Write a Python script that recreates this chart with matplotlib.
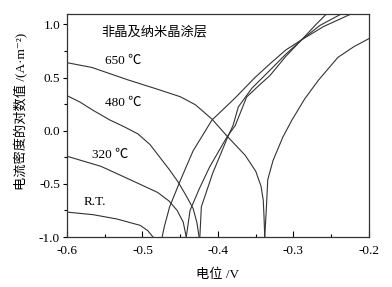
"""
Tafel curves of the amorphous / nanocrystalline coating (R.T., 320, 480, 650 C).
"""
import matplotlib
matplotlib.use("Agg")
import matplotlib.pyplot as plt
from matplotlib.ticker import MultipleLocator, FormatStrFormatter

FONTS = ["Liberation Serif", "Noto Sans CJK SC", "DejaVu Sans"]
plt.rcParams["font.family"] = FONTS
plt.rcParams["axes.unicode_minus"] = True

# --- data ------------------------------------------------------------
# cathodic branches (potential V, log current density)
rt_cat_x = [-0.600, -0.565, -0.534, -0.503, -0.493, -0.486]
rt_cat_y = [-0.765, -0.790, -0.830, -0.890, -0.940, -1.000]

t320_cat_x = [-0.600, -0.555, -0.515, -0.480, -0.465, -0.454, -0.446, -0.442]
t320_cat_y = [-0.240, -0.335, -0.465, -0.580, -0.660, -0.750, -0.860, -1.000]

t480_cat_x = [-0.600, -0.583, -0.565, -0.543, -0.525, -0.506, -0.490, -0.477,
              -0.465, -0.453, -0.443, -0.433, -0.428, -0.425]
t480_cat_y = [0.330, 0.270, 0.190, 0.100, 0.040, -0.030, -0.130, -0.250,
              -0.360, -0.480, -0.600, -0.730, -0.860, -1.000]

t650_cat_x = [-0.600, -0.567, -0.520, -0.480, -0.450, -0.430, -0.408, -0.387,
              -0.364, -0.350, -0.343, -0.340, -0.339, -0.338]
t650_cat_y = [0.640, 0.595, 0.480, 0.390, 0.320, 0.245, 0.110, -0.058,
              -0.230, -0.380, -0.520, -0.650, -0.800, -1.000]

# anodic branches
rt_an_x = [-0.474, -0.471, -0.464, -0.450, -0.433, -0.408, -0.377, -0.351,
           -0.331, -0.310, -0.289, -0.270, -0.256]
rt_an_y = [-1.000, -0.900, -0.715, -0.470, -0.190, 0.100, 0.310, 0.500,
           0.630, 0.760, 0.856, 1.000, 1.100]

t320_an_x = [-0.442, -0.437, -0.425, -0.411, -0.388, -0.377, -0.362, -0.345,
             -0.331, -0.310, -0.289, -0.260, -0.223]
t320_an_y = [-1.000, -0.750, -0.550, -0.340, -0.058, 0.050, 0.317, 0.430,
             0.520, 0.700, 0.856, 0.980, 1.100]

t480_an_x = [-0.424, -0.422, -0.407, -0.387, -0.380, -0.373, -0.355, -0.331,
             -0.310, -0.289, -0.265, -0.236]
t480_an_y = [-1.000, -0.715, -0.400, -0.058, 0.050, 0.224, 0.400, 0.570,
             0.720, 0.856, 0.990, 1.100]

t650_an_x = [-0.338, -0.336, -0.334, -0.327, -0.314, -0.302, -0.285, -0.267,
             -0.241, -0.220, -0.200]
t650_an_y = [-1.000, -0.750, -0.460, -0.280, -0.060, 0.100, 0.300, 0.474,
             0.690, 0.790, 0.866]

CURVES = [
    (rt_cat_x, rt_cat_y), (t320_cat_x, t320_cat_y),
    (t480_cat_x, t480_cat_y), (t650_cat_x, t650_cat_y),
    (rt_an_x, rt_an_y), (t320_an_x, t320_an_y),
    (t480_an_x, t480_an_y), (t650_an_x, t650_an_y),
]

labels = ["650 ℃", "480 ℃", "320 ℃", "R.T."]
label_x = [-0.550, -0.550, -0.567, -0.578]
label_y = [0.653, 0.261, -0.230, -0.668]

title = "非晶及纳米晶涂层"
xlabel = "电位 /V"
ylabel = "电流密度的对数值 /(A·m⁻²)"

# --- draw -------------------------------------------------------------
fig = plt.figure(figsize=(3.92, 2.87), dpi=100)
ax = fig.add_axes([0.171, 0.174, 0.770, 0.778])

for x, y in CURVES:
    ax.plot(x, y, color="#333333", lw=0.8)

for s, x, y in zip(labels, label_x, label_y):
    ax.text(x, y, s, fontsize=9.5, va="center", ha="left", family=FONTS)
ax.text(-0.555, 0.93, title, fontsize=9.5, va="center", ha="left", family=FONTS)

ax.set_xlim(-0.6, -0.2)
ax.set_ylim(-1.0, 1.1)
ax.xaxis.set_major_locator(MultipleLocator(0.1))
ax.xaxis.set_minor_locator(MultipleLocator(0.05))
ax.yaxis.set_major_locator(MultipleLocator(0.5))
ax.yaxis.set_minor_locator(MultipleLocator(0.25))
ax.xaxis.set_major_formatter(FormatStrFormatter("%.1f"))
ax.yaxis.set_major_formatter(FormatStrFormatter("%.1f"))
ax.tick_params(axis="x", direction="in", length=4, width=0.8, labelsize=9.5, pad=6)
ax.tick_params(axis="x", which="minor", direction="in", length=2.5, width=0.8)
ax.tick_params(axis="y", direction="out", length=3, width=0.8, labelsize=9.5, pad=2)
ax.tick_params(axis="y", which="minor", direction="out", length=2, width=0.8)
for sp in ax.spines.values():
    sp.set_linewidth(0.9)
    sp.set_color("#333333")

ax.set_xlabel(xlabel, fontsize=9.5, family=FONTS, labelpad=8)
ax.set_ylabel(ylabel, fontsize=9.5, family=FONTS)
ax.yaxis.set_label_coords(-0.13, 0.564)

fig.savefig("out.png", dpi=100)
